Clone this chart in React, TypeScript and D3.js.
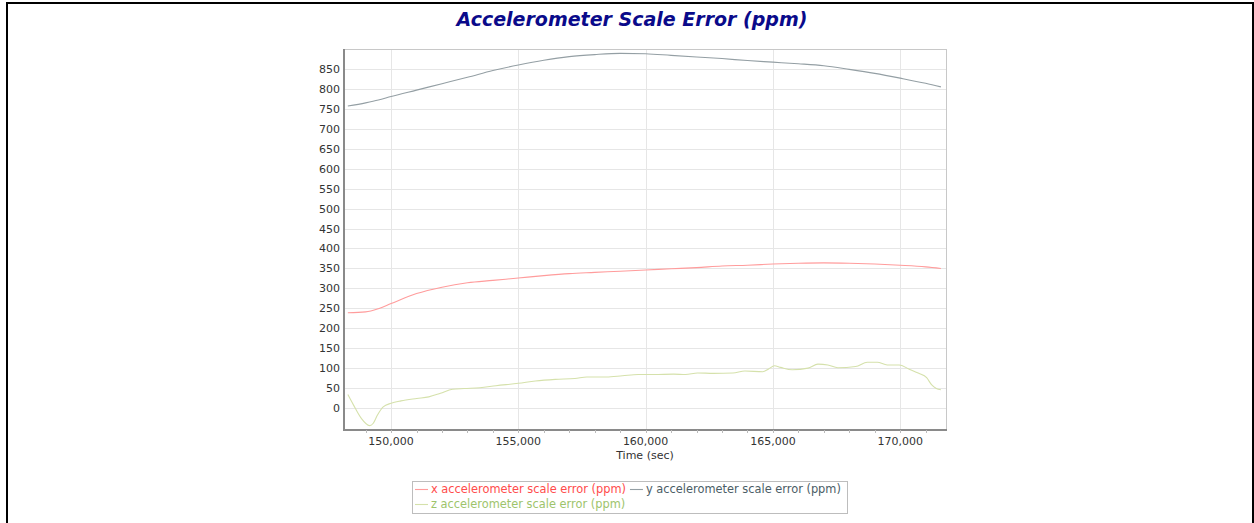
import React, { useEffect, useRef } from 'react';
import * as d3 from 'd3';

// Time stamps (sec) shared by the x and y scale error series
const timeXY = [
  148300, 149000, 149500, 150000, 151000, 152000, 153000, 154000, 155000, 156000,
  157000, 158000, 159000, 160000, 161000, 162000, 163000, 164000, 165000, 166000,
  167000, 168000, 169000, 170000, 171000, 171600,
];
const xScaleError = [
  239, 241, 249, 262, 287, 303, 314, 320, 326, 332,
  337, 340, 343, 346, 349, 352, 356, 358, 361, 363,
  364, 363, 361, 358, 354, 350,
];
const yScaleError = [
  757, 765, 772, 781, 797, 813, 829, 846, 860, 872,
  881, 886, 889, 888, 884, 880, 876, 871, 867, 863,
  858, 849, 839, 827, 814, 805,
];

// z series is noisier, so it gets its own time stamps
const timeZ = [
  148300, 148520, 148830, 149150, 149300, 149460, 149690, 150000, 150390, 151010,
  151480, 151940, 152410, 152870, 153490, 154120, 155000, 155670, 156450, 157220,
  157690, 158460, 159090, 159710, 160330, 161100, 161570, 162040, 162660, 163430,
  163900, 164600, 164830, 165060, 165300, 165760, 166380, 166770, 167160, 167550,
  168250, 168710, 169100, 169490, 169960, 170340, 170730, 171040, 171240, 171420,
  171600,
];
const zScaleError = [
  34, 8, -26, -44, -38, -18, 3, 12, 18, 24,
  28, 37, 47, 49, 51, 56, 62, 68, 72, 74,
  78, 78, 81, 84, 84, 85, 84, 88, 87, 88,
  93, 91, 98, 106, 102, 96, 100, 110, 108, 101,
  104, 115, 115, 108, 108, 98, 87, 76, 58, 49,
  46,
];

const xTicks = [150000, 155000, 160000, 165000, 170000];
const yTicks = [0, 50, 100, 150, 200, 250, 300, 350, 400, 450, 500, 550, 600, 650, 700, 750, 800, 850];

const seriesNames = [
  'x accelerometer scale error (ppm)',
  'y accelerometer scale error (ppm)',
  'z accelerometer scale error (ppm)',
];
const lineColors = ['#ff9c9c', '#949fa4', '#d5e1ab'];
const textColors = ['#ff4c4c', '#4b5d66', '#9ec46c'];

const FONT = '"DejaVu Sans", Verdana, sans-serif';

export default function App() {
  const svgRef = useRef<SVGSVGElement>(null);

  useEffect(() => {
    if (!svgRef.current) return;
    const width = 1254;
    const height = 523;
    const plot = { left: 344, right: 946, top: 49, bottom: 430 };

    const svg = d3.select(svgRef.current);
    svg.selectAll('*').remove();
    svg.attr('width', width).attr('height', height);

    // page frame
    svg.append('rect')
      .attr('x', 7).attr('y', 3)
      .attr('width', 1246).attr('height', 600)
      .attr('fill', 'white')
      .attr('stroke', '#000').attr('stroke-width', 2);

    svg.append('text')
      .attr('x', 632).attr('y', 26)
      .attr('text-anchor', 'middle')
      .style('font-family', FONT)
      .style('font-size', '19px')
      .style('font-weight', 'bold')
      .style('font-style', 'italic')
      .style('fill', '#0a0a8a')
      .text('Accelerometer Scale Error (ppm)');

    const x = d3.scaleLinear().domain([148150, 171800]).range([plot.left, plot.right]);
    const y = d3.scaleLinear().domain([-55, 900]).range([plot.bottom, plot.top]);

    // grid
    const grid = svg.append('g').attr('stroke', '#e6e6e6').attr('stroke-width', 1);
    grid.selectAll('line.h').data(yTicks).join('line')
      .attr('class', 'h')
      .attr('x1', plot.left).attr('x2', plot.right)
      .attr('y1', d => Math.round(y(d)) + 0.5).attr('y2', d => Math.round(y(d)) + 0.5);
    grid.selectAll('line.v').data(xTicks).join('line')
      .attr('class', 'v')
      .attr('y1', plot.top).attr('y2', plot.bottom)
      .attr('x1', d => Math.round(x(d)) + 0.5).attr('x2', d => Math.round(x(d)) + 0.5);

    // plot border (top/right light)
    svg.append('rect')
      .attr('x', plot.left + 0.5).attr('y', plot.top + 0.5)
      .attr('width', plot.right - plot.left).attr('height', plot.bottom - plot.top)
      .attr('fill', 'none').attr('stroke', '#c8c8c8');

    // x axis
    const minorTicks = d3.range(149000, 171001, 1000);
    const xAxis = svg.append('g').attr('transform', `translate(0,${plot.bottom})`);
    xAxis.append('line')
      .attr('x1', plot.left).attr('x2', plot.right + 1)
      .attr('stroke', '#8a8a8a').attr('stroke-width', 2);
    xAxis.selectAll('line.tick').data(minorTicks).join('line')
      .attr('class', 'tick')
      .attr('x1', d => Math.round(x(d)) + 0.5).attr('x2', d => Math.round(x(d)) + 0.5)
      .attr('y1', 0).attr('y2', 3)
      .attr('stroke', '#bbbbbb');
    xAxis.selectAll('text').data(xTicks).join('text')
      .attr('x', d => x(d)).attr('y', 15)
      .attr('text-anchor', 'middle')
      .style('font-family', FONT).style('font-size', '11px').style('fill', '#333')
      .text(d => d3.format(',')(d));

    svg.append('text')
      .attr('x', (plot.left + plot.right) / 2).attr('y', 459)
      .attr('text-anchor', 'middle')
      .style('font-family', FONT).style('font-size', '11px').style('fill', '#333')
      .text('Time (sec)');

    // y axis
    svg.append('line')
      .attr('x1', plot.left).attr('x2', plot.left)
      .attr('y1', plot.top).attr('y2', plot.bottom + 1)
      .attr('stroke', '#8a8a8a').attr('stroke-width', 2);
    svg.append('g').selectAll('text').data(yTicks).join('text')
      .attr('x', plot.left - 4).attr('y', d => y(d) + 4)
      .attr('text-anchor', 'end')
      .style('font-family', FONT).style('font-size', '11px').style('fill', '#333')
      .text(d => d);

    // series
    const series = [
      timeXY.map((t, i) => [t, xScaleError[i]] as [number, number]),
      timeXY.map((t, i) => [t, yScaleError[i]] as [number, number]),
      timeZ.map((t, i) => [t, zScaleError[i]] as [number, number]),
    ];
    const line = d3.line<[number, number]>()
      .x(d => x(d[0]))
      .y(d => y(d[1]))
      .curve(d3.curveMonotoneX);
    svg.append('g').selectAll('path').data(series).join('path')
      .attr('d', d => line(d))
      .attr('fill', 'none')
      .attr('stroke', (_, i) => lineColors[i])
      .attr('stroke-width', 1.1);

    // legend
    const legend = svg.append('g');
    const box = legend.append('rect')
      .attr('x', 412.5).attr('y', 481.5)
      .attr('width', 435).attr('height', 32)
      .attr('fill', 'white').attr('stroke', '#bdbdbd');
    const rows = [[0, 1], [2]];
    let maxRight = 0;
    rows.forEach((row, r) => {
      let cx = 415;
      const cy = 489 + r * 15;
      row.forEach(i => {
        legend.append('line')
          .attr('x1', cx).attr('x2', cx + 13)
          .attr('y1', cy + 0.5).attr('y2', cy + 0.5)
          .attr('stroke', lineColors[i]).attr('stroke-width', 1.1);
        const t = legend.append('text')
          .attr('x', cx + 16).attr('y', cy + 4)
          .style('font-family', FONT).style('font-size', '11.4px')
          .style('fill', textColors[i])
          .text(seriesNames[i]);
        const w = (t.node() as SVGTextElement).getComputedTextLength();
        cx += 16 + w + 4;
      });
      maxRight = Math.max(maxRight, cx);
    });
    box.attr('width', Math.max(435, maxRight - 410));
  }, []);

  return (
    <svg
      ref={svgRef}
      style={{ position: 'absolute', left: 0, top: 0, display: 'block' }}
    />
  );
}
